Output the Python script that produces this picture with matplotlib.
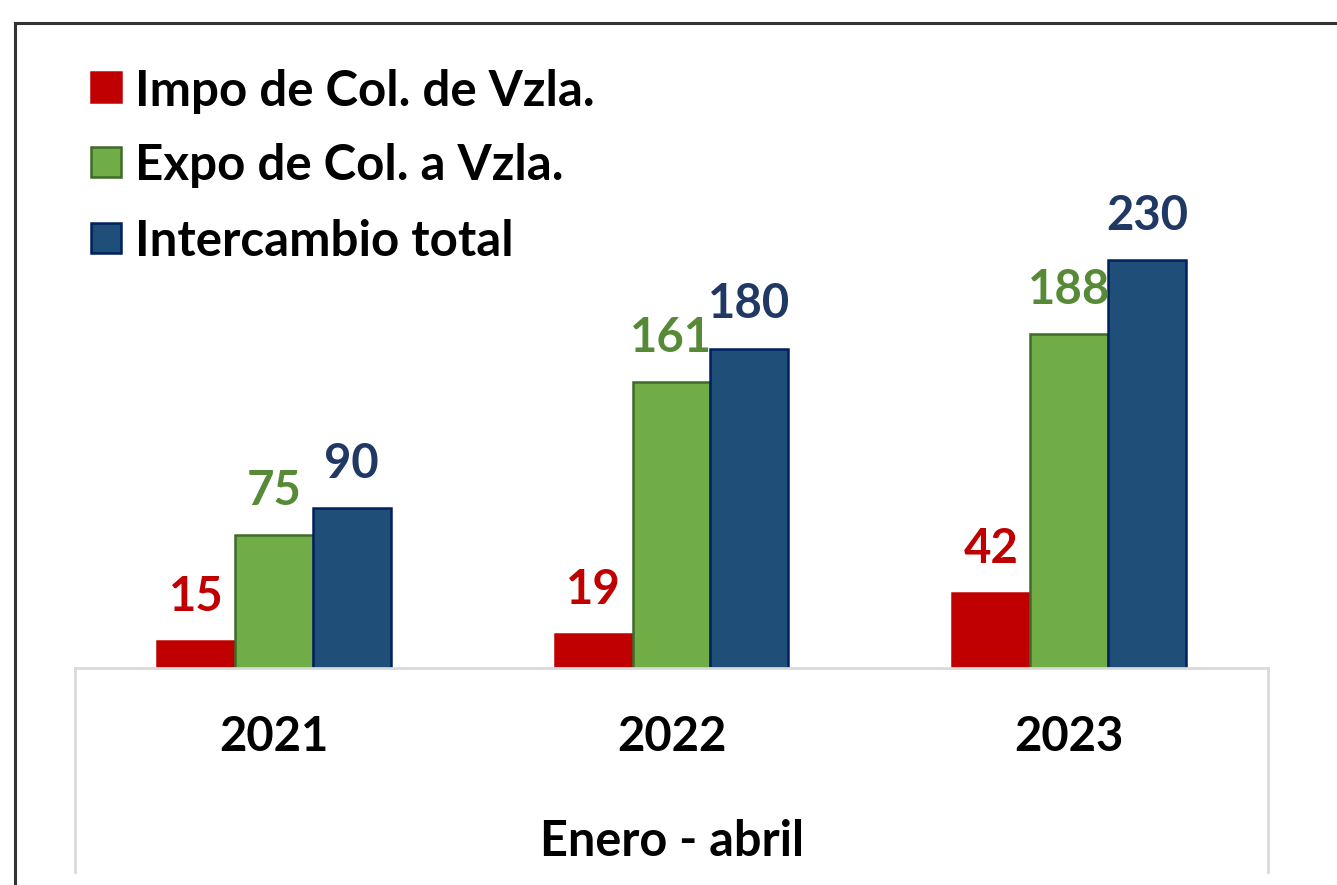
import numpy as np
import matplotlib
matplotlib.use("Agg")
import matplotlib.pyplot as plt
from matplotlib.lines import Line2D
from matplotlib.patches import Rectangle

years = ["2021", "2022", "2023"]
series = ["Impo de Col. de Vzla.", "Expo de Col. a Vzla.", "Intercambio total"]
impo = [15, 19, 42]
expo = [75, 161, 188]
total = [90, 180, 230]

bar_colors = ["#C00000", "#70AD47", "#1F4E79"]
edge_colors = ["#C00000", "#3E6B27", "#002060"]
label_colors = ["#C00000", "#578A37", "#1F3864"]

plt.rcParams['font.family'] = ['Lato', 'DejaVu Sans']
plt.rcParams['font.weight'] = 'bold'
FS = 34
FS_LEG = 35.5

W, H = 1337, 885
fig = plt.figure(figsize=(W / 100, H / 100), dpi=100)
fig.patch.set_facecolor("white")

# axes: x 75..1268 px, baseline at y=668 px
ymax = 360
px_per_unit = 1.775
top_px = 668 - ymax * px_per_unit
ax = fig.add_axes([75 / W, 1 - 668 / H, (1268 - 75) / W, (668 - top_px) / H])
ax.set_xlim(-0.5, 2.5)
ax.set_ylim(0, ymax)

x = np.arange(len(years))
w = 0.196
for i, vals in enumerate([impo, expo, total]):
    bars = ax.bar(x + (i - 1) * w, vals, w, color=bar_colors[i],
                  edgecolor=edge_colors[i], linewidth=1.8, label=series[i])
    ax.bar_label(bars, padding=16, fontsize=FS, color=label_colors[i], fontweight='bold')

for s in ["top", "left", "right"]:
    ax.spines[s].set_visible(False)
ax.spines["bottom"].set_color("#D9D9D9")
ax.spines["bottom"].set_linewidth(2)
ax.set_yticks([])
ax.set_xticks(x)
ax.set_xticklabels(years, fontsize=FS, fontweight='bold')
ax.tick_params(axis='x', length=0, pad=34)
ax.set_xlabel("Enero - abril", fontsize=35, fontweight='bold', labelpad=43)

# side lines of the category area
for xp in [75, 1268]:
    fig.add_artist(Line2D([xp / W, xp / W], [1 - 872 / H, 1 - 668 / H],
                          color="#D9D9D9", lw=2))

# outer border
fig.add_artist(Line2D([15 / W, 1.01], [1 - 23 / H, 1 - 23 / H], color="#333333", lw=2.2))
fig.add_artist(Line2D([15 / W, 15 / W], [-0.01, 1 - 23 / H], color="#333333", lw=2.2))

# legend
rows = [87, 162, 238]
for i, name in enumerate(series):
    cy = rows[i]
    fig.add_artist(Rectangle((91 / W, 1 - (cy + 15) / H), 30 / W, 30 / H,
                             facecolor=bar_colors[i], edgecolor=edge_colors[i], lw=1.8))
    fig.text(135 / W, 1 - cy / H, name, fontsize=FS_LEG, fontweight='bold',
             va='center_baseline', ha='left', color='black')

fig.savefig("out.png", dpi=100)
